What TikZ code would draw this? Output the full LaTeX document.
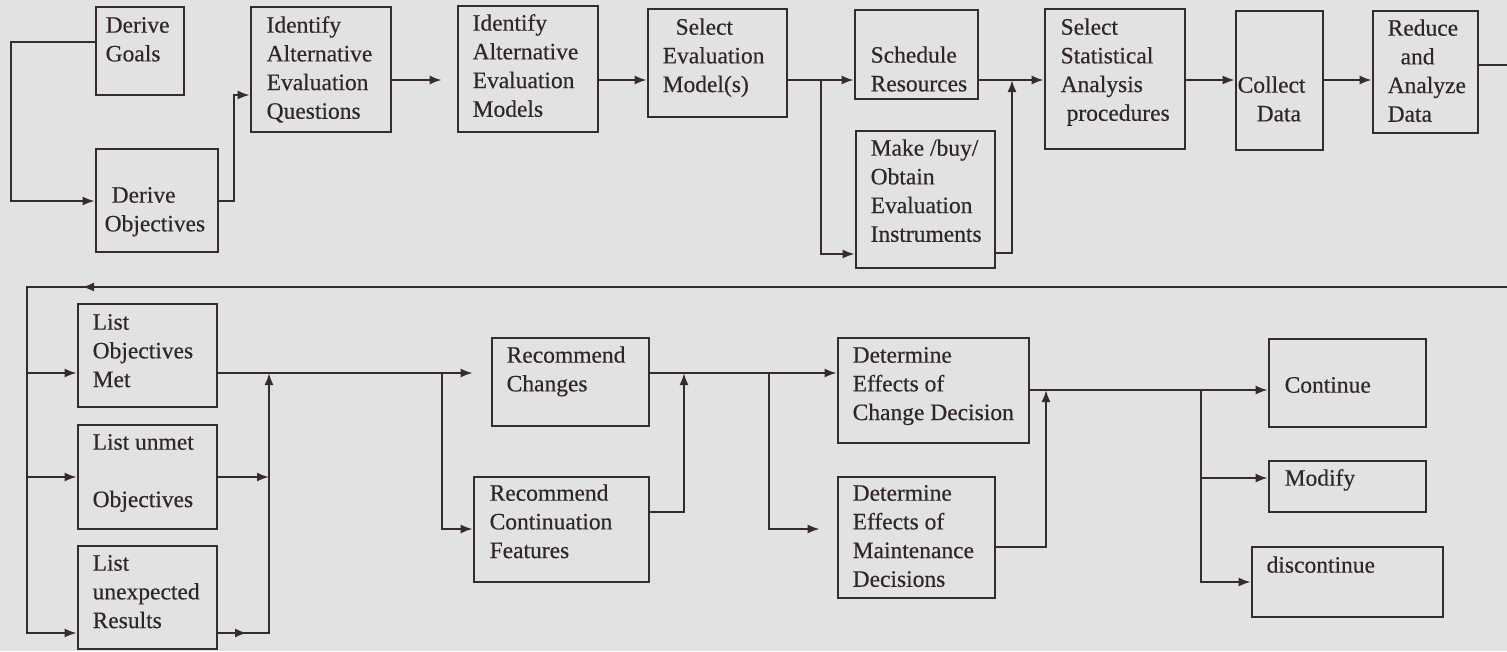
\documentclass[tikz,border=0pt]{standalone}
\usepackage{fontspec}
\setmainfont{Liberation Serif}[FakeBold=0.4]
\newfontfamily\boxfont{Liberation Serif}[FakeBold=0.4]
\usetikzlibrary{arrows.meta}
\definecolor{ink}{RGB}{55,43,47}
\definecolor{textink}{RGB}{48,38,42}
\definecolor{paper}{RGB}{226,226,226}
\tikzset{
  box/.style={draw=ink, line width=2.7pt, rectangle, inner sep=0pt},
  txt/.style={anchor=north west, inner sep=0pt, outer sep=0pt, align=left, text=textink, font=\boxfont\fontsize{23.5}{28.7}\selectfont},
  conn/.style={draw=ink, line width=2pt},
  arr/.style={conn, -{Latex[length=12pt,width=9pt]}},
}
\newcommand\fl{\rule{0pt}{20pt}}
% name, x1, y1, x2, y2, dx, dy, text
\newcommand\bx[8]{\node[box, minimum width={(#4-#2)*1pt}, minimum height={(#5-#3)*1pt},
  label={[txt,xshift=#6pt,yshift=-#7pt]north west:{\fl #8}}] (#1) at ({(#2+#4)/2},{(#3+#5)/2}) {};}
\begin{document}
\begin{tikzpicture}[x=1pt,y=-1pt]
\useasboundingbox (0,0) rectangle (1507,651);
\fill[paper] (0,0) rectangle (1507,651);
% top row
\bx{goals}{96}{7}{184}{95}{11}{7}{Derive\\Goals}
\bx{objs}{96}{149}{218}{252}{10}{35}{\hspace*{7pt}Derive\\Objectives}
\bx{quest}{251}{7}{391}{132}{17}{7}{Identify\\Alternative\\Evaluation\\Questions}
\bx{models}{458}{6}{598}{132}{16}{6}{Identify\\Alternative\\Evaluation\\Models}
\bx{select}{648}{9}{787}{117}{16}{7}{\hspace*{13pt}Select\\Evaluation\\Model(s)}
\bx{sched}{855}{10}{978}{99}{17}{34}{Schedule\\Resources}
\bx{make}{856}{131}{995}{268}{16}{6}{Make /buy/\\Obtain\\Evaluation\\Instruments}
\bx{stat}{1045}{9}{1185}{149}{17}{7}{Select\\Statistical\\Analysis\\\hspace*{6pt}procedures}
\bx{collect}{1236}{11}{1323}{150}{3}{63}{Collect\\\hspace*{19pt}Data}
\bx{reduce}{1373}{11}{1478}{133}{16}{6}{Reduce\\\hspace*{13pt}and\\Analyze\\Data}
% bottom row
\bx{lom}{78}{304}{217}{407}{16}{7}{List\\Objectives\\Met}
\bx{unmet}{78}{425}{217}{529}{16}{6}{List unmet\\[28.7pt]Objectives}
\bx{unexp}{78}{546}{217}{649}{16}{6}{List\\unexpected\\Results}
\bx{rc}{492}{338}{649}{426}{16}{6}{Recommend\\Changes}
\bx{rcf}{474}{477}{649}{582}{17}{5}{Recommend\\Continuation\\Features}
\bx{dc}{838}{338}{1029}{443}{16}{6}{Determine\\Effects of\\Change Decision}
\bx{maint}{838}{477}{995}{598}{16}{5}{Determine\\Effects of\\Maintenance\\Decisions}
\bx{cont}{1269}{339}{1426}{427}{17}{35}{Continue}
\bx{modify}{1269}{461}{1426}{512}{17}{6}{Modify}
\bx{discont}{1252}{547}{1443}{617}{16}{7}{discontinue}
% levels
\coordinate (La) at (0,42);
\coordinate (Lo) at (0,201);
\coordinate (Lb) at (0,95);
\coordinate (Lt) at (0,80);
\coordinate (Lm) at (0,254);
\coordinate (Lm2) at (0,253);
\coordinate (Lr) at (0,65);
\coordinate (Lf) at (0,287);
\coordinate (L1) at (0,373);
\coordinate (L2) at (0,477);
\coordinate (L3) at (0,633);
\coordinate (L6) at (0,512);
\coordinate (L7) at (0,529);
\coordinate (L8) at (0,547);
\coordinate (L9) at (0,390);
\coordinate (L10) at (0,478);
\coordinate (L11) at (0,582);
% x positions
\coordinate (Xa) at (11,0);
\coordinate (Xb) at (234,0);
\coordinate (Xc) at (821,0);
\coordinate (Xd) at (1012,0);
\coordinate (Xe) at (1507,0);
\coordinate (Xf) at (27,0);
\coordinate (Xfa) at (82,0);
\coordinate (Xfb) at (120,0);
\coordinate (Xg) at (269,0);
\coordinate (Xh) at (442,0);
\coordinate (Xi) at (684,0);
\coordinate (Xj) at (769,0);
\coordinate (Xk) at (1046,0);
\coordinate (Xl) at (1201,0);
\coordinate (Xm) at (247,0);
% connectors top
\draw[arr] (goals.west |- La) -- (Xa |- La) |- (objs.west |- Lo);
\draw[arr] (objs.east |- Lo) -| (Xb |- Lb) -- (quest.west |- Lb);
\draw[arr, shorten >=15pt] (quest.east |- Lt) -- (models.west |- Lt);
\draw[arr] (models.east |- Lt) -- (select.west |- Lt);
\draw[arr] (select.east |- Lt) -- (sched.west |- Lt);
\draw[arr] (Xc |- Lt) |- (make.west |- Lm);
\draw[arr] (make.east |- Lm2) -| (Xd |- Lt);
\draw[arr] (sched.east |- Lt) -- (stat.west |- Lt);
\draw[arr] (stat.east |- Lt) -- (collect.west |- Lt);
\draw[arr] (collect.east |- Lt) -- (reduce.west |- Lt);
\draw[conn] (reduce.east |- Lr) -- (Xe |- Lr);
% feedback
\draw[arr] (Xe |- Lf) -- (Xf |- Lf) |- (unexp.west |- L3);
\draw[arr] (Xfb |- Lf) -- (Xfa |- Lf);
\draw[arr] (Xf |- L1) -- (lom.west |- L1);
\draw[arr] (Xf |- L2) -- (unmet.west |- L2);
% bottom connectors
\draw[arr, shorten >=18pt] (lom.east |- L1) -- (rc.west |- L1);
\draw[arr] (unmet.east |- L2) -- (Xg |- L2);
\draw[arr] (unexp.east |- L3) -- (Xm |- L3);
\draw[arr] (unexp.east |- L3) -| (Xg |- L1);
\draw[arr] (Xh |- L1) |- (rcf.west |- L7);
\draw[arr] (rc.east |- L1) -- (dc.west |- L1);
\draw[arr] (rcf.east |- L6) -| (Xi |- L1);
\draw[arr, shorten >=17pt] (Xj |- L1) |- (maint.west |- L7);
\draw[arr] (maint.east |- L8) -| (Xk |- L9);
\draw[arr] (dc.east |- L9) -- (cont.west |- L9);
\draw[arr] (Xl |- L9) |- (modify.west |- L10);
\draw[arr] (Xl |- L9) |- (discont.west |- L11);
\end{tikzpicture}
\end{document}
